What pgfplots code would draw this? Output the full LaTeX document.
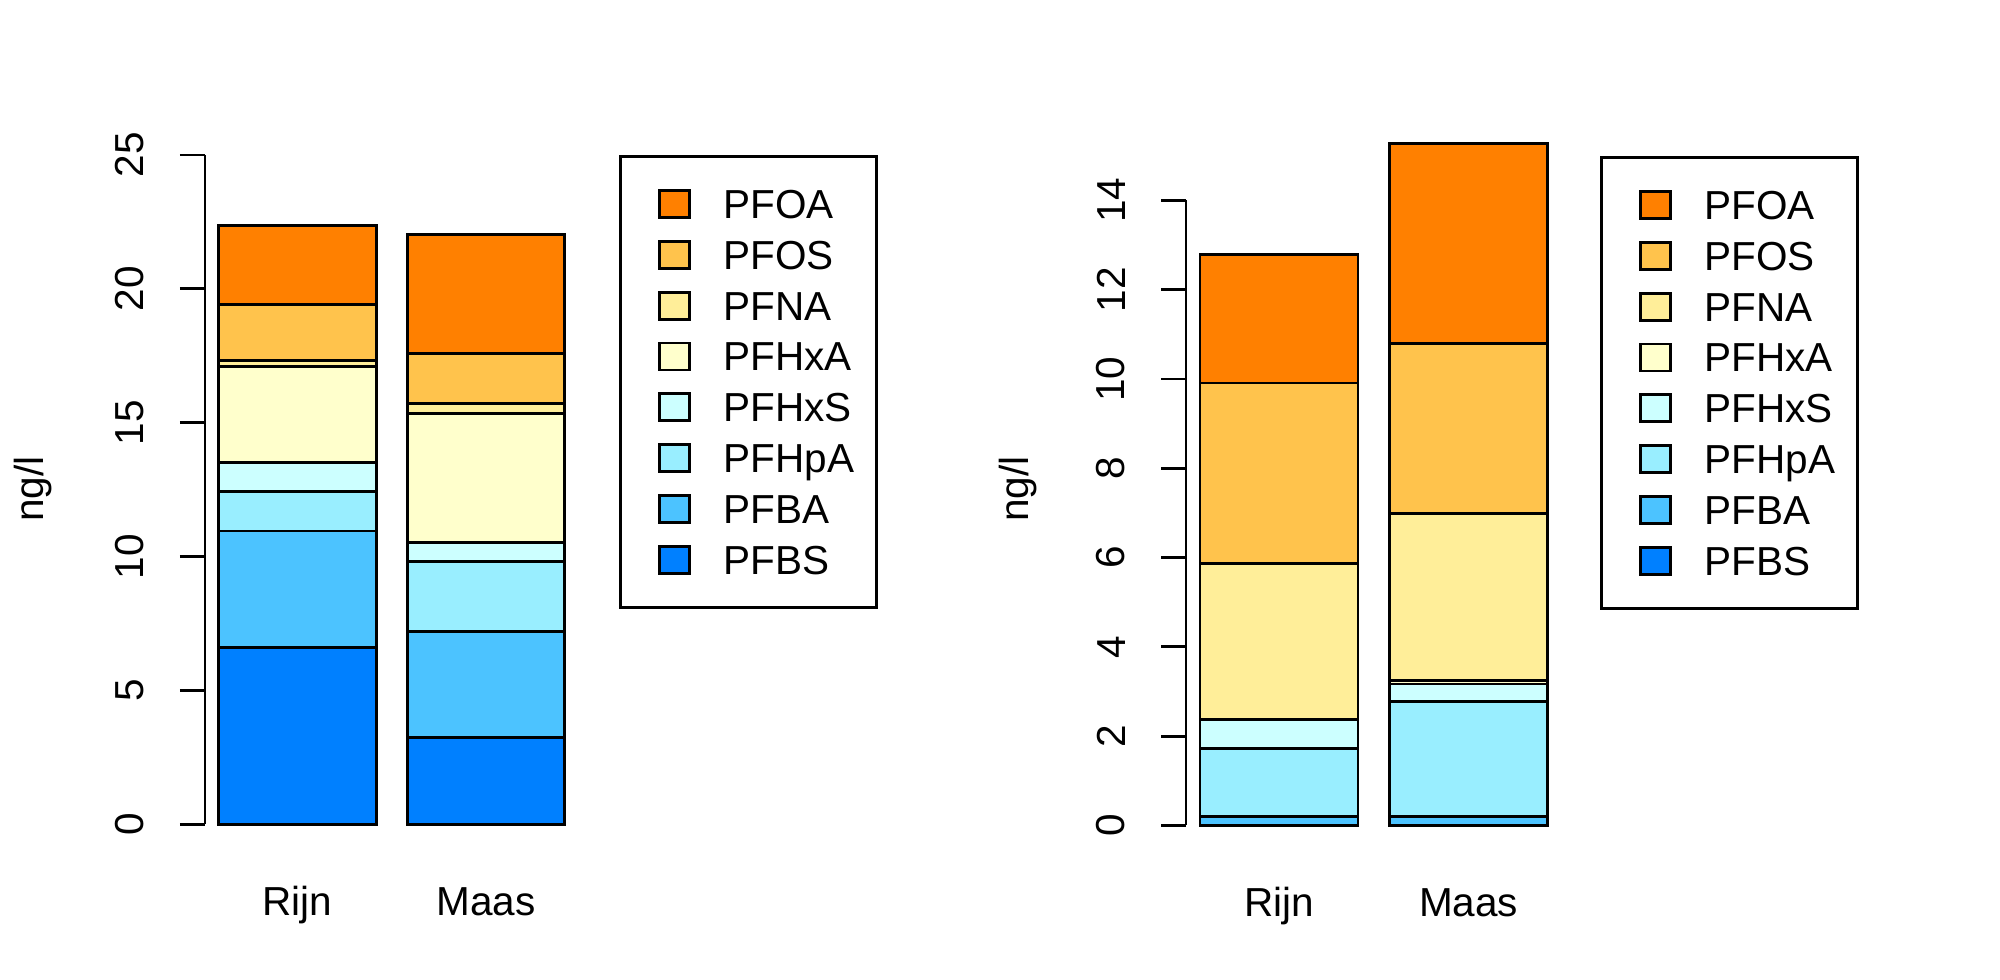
\documentclass[border=0pt]{standalone}
\usepackage{fontspec}
\setmainfont{Liberation Sans}
\usepackage{pgfplots}
\pgfplotsset{compat=1.18}
\definecolor{cPFBS}{HTML}{0080FF}
\definecolor{cPFBA}{HTML}{4CC3FF}
\definecolor{cPFHpA}{HTML}{99EEFF}
\definecolor{cPFHxS}{HTML}{CCFFFF}
\definecolor{cPFHxA}{HTML}{FFFFCC}
\definecolor{cPFNA}{HTML}{FFEE99}
\definecolor{cPFOS}{HTML}{FFC34C}
\definecolor{cPFOA}{HTML}{FF8000}
\newcommand{\rfont}{\fontsize{12.15}{14.5}\selectfont}
\pgfplotsset{
  mylegimg/.style={/pgfplots/legend image code/.code={\draw[##1] (0pt,-4.05pt) rectangle (9pt,4.05pt);}},
  rbar/.style={
    ybar stacked, bar width=1,
    xmin=0.112, xmax=2.488, ymin=0,
    scale only axis, clip=false,
    axis lines=left,
    axis line style={draw=none},
    tick align=outside,
    major tick length=7.5pt,
    ytick style={draw=black, line width=0.85pt},
    xtick style={draw=none},
    xtick={0.7,1.9}, xticklabels={Rijn,Maas},
    xticklabel style={font=\rfont, anchor=base, inner sep=0pt, yshift=-19.95pt},
    yticklabel={\rotatebox{90}{\pgfmathprintnumber{\tick}}},
    yticklabel style={font=\rfont, anchor=east, inner sep=0pt, xshift=-10.5pt},
    /pgf/number format/assume math mode=true,
    every axis plot/.append style={draw=black, line width=0.85pt},
    every axis plot post/.append style={mylegimg},
    reverse legend,
    legend cell align=left,
    legend style={anchor=north west, draw=black, line width=0.85pt,
      inner xsep=11.4pt, inner ysep=9.8pt, row sep=6.3pt, column sep=9.7pt,
      font=\rfont,
      nodes={inner sep=0pt, text height=8.7pt, text depth=0pt, text width=34.5pt, align=left}},
    ylabel={ng/l},
    ylabel style={font=\rfont, anchor=center, inner sep=0pt},
  },
}
\begin{document}
\begin{tikzpicture}
\useasboundingbox (0,0) rectangle (600pt,294pt);
\begin{axis}[rbar,
  at={(61.5pt,46.65pt)}, anchor=south west,
  width=112.11pt, height=200.85pt,
  ymax=25, ytick={0,5,10,15,20,25},
  legend style={at={(axis description cs:1.1078,1.0)}},
  ylabel style={at={(axis description cs:-0.4603,0.5011)}},
]
\addplot[fill=cPFBS]  coordinates {(0.7,6.61) (1.9,3.24)};
\addlegendentry{PFBS}
\addplot[fill=cPFBA]  coordinates {(0.7,4.35) (1.9,3.96)};
\addlegendentry{PFBA}
\addplot[fill=cPFHpA] coordinates {(0.7,1.48) (1.9,2.61)};
\addlegendentry{PFHpA}
\addplot[fill=cPFHxS] coordinates {(0.7,1.07) (1.9,0.71)};
\addlegendentry{PFHxS}
\addplot[fill=cPFHxA] coordinates {(0.7,3.60) (1.9,4.82)};
\addlegendentry{PFHxA}
\addplot[fill=cPFNA]  coordinates {(0.7,0.23) (1.9,0.38)};
\addlegendentry{PFNA}
\addplot[fill=cPFOS]  coordinates {(0.7,2.09) (1.9,1.86)};
\addlegendentry{PFOS}
\addplot[fill=cPFOA]  coordinates {(0.7,2.94) (1.9,4.46)};
\addlegendentry{PFOA}
\draw[line width=0.85pt] (axis cs:0.112,0) -- (axis cs:0.112,25);
\end{axis}
\begin{axis}[rbar,
  at={(355.8pt,46.35pt)}, anchor=south west,
  width=112.68pt, height=214.29pt,
  ymax=16, ytick={0,2,4,6,8,10,12,14},
  legend style={at={(axis description cs:1.1022,0.9373)}},
  ylabel style={at={(axis description cs:-0.4473,0.4711)}},
]
\addplot[fill=cPFBS]  coordinates {(0.7,0) (1.9,0)};
\addlegendentry{PFBS}
\addplot[fill=cPFBA]  coordinates {(0.7,0.21) (1.9,0.21)};
\addlegendentry{PFBA}
\addplot[fill=cPFHpA] coordinates {(0.7,1.52) (1.9,2.56)};
\addlegendentry{PFHpA}
\addplot[fill=cPFHxS] coordinates {(0.7,0.65) (1.9,0.40)};
\addlegendentry{PFHxS}
\addplot[fill=cPFHxA] coordinates {(0.7,0) (1.9,0.08)};
\addlegendentry{PFHxA}
\addplot[fill=cPFNA]  coordinates {(0.7,3.49) (1.9,3.74)};
\addlegendentry{PFNA}
\addplot[fill=cPFOS]  coordinates {(0.7,4.04) (1.9,3.80)};
\addlegendentry{PFOS}
\addplot[fill=cPFOA]  coordinates {(0.7,2.88) (1.9,4.49)};
\addlegendentry{PFOA}
\draw[line width=0.85pt] (axis cs:0.112,0) -- (axis cs:0.112,14);
\end{axis}
\end{tikzpicture}
\end{document}
